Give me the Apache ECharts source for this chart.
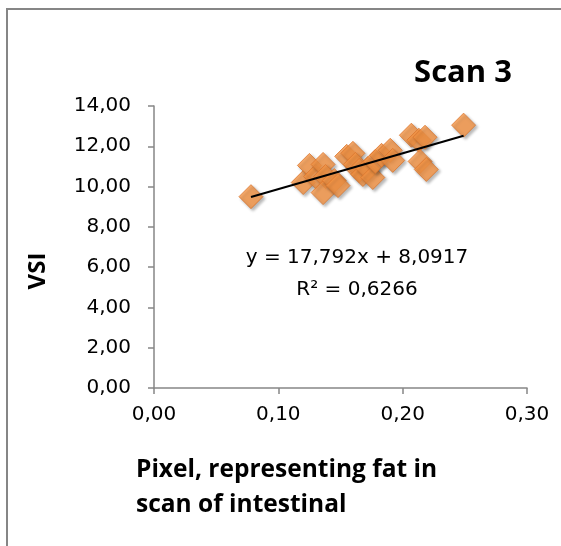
<!DOCTYPE html>
<html>
<head>
<meta charset="utf-8">
<script src="https://cdn.jsdelivr.net/npm/echarts@6/dist/echarts.min.js"></script>
<style>
  html, body { margin: 0; padding: 0; background: #fff; }
  #chart { width: 561px; height: 546px; }
</style>
</head>
<body>
<div id="chart"></div>
<script>
// Fat pixel fraction per sample (x) and its VSI value (y)
const fatPixel = [0.078, 0.120, 0.125, 0.130, 0.136, 0.138, 0.136, 0.145, 0.148, 0.155, 0.160, 0.162, 0.165,
                  0.168, 0.172, 0.176, 0.178, 0.183, 0.190, 0.192, 0.207, 0.213, 0.218, 0.214, 0.219, 0.249];
const vsi      = [9.50, 10.20, 11.05, 10.50, 11.10, 10.50, 9.70, 10.30, 10.05, 11.50, 11.65, 11.10, 10.80,
                  10.60, 10.90, 10.45, 11.25, 11.55, 11.80, 11.30, 12.55, 12.30, 12.45, 11.25, 10.85, 13.05];

// Linear fit reported for this scan
const slope = 17.792;
const intercept = 8.0917;
const rSquared = 0.6266;

const xTicks = [0, 0.1, 0.2, 0.3];
const yTicks = [0, 2, 4, 6, 8, 10, 12, 14];

const fmt = (v, d) => v.toFixed(d).replace('.', ',');

const points = fatPixel.map((x, i) => [x, vsi[i]]);
const xMin = Math.min(...fatPixel), xMax = Math.max(...fatPixel);
const trend = [[xMin, intercept + slope * xMin], [xMax, intercept + slope * xMax]];

const font = '"Open Sans", "Noto Sans", "Liberation Sans", sans-serif';
const numFont = '"DejaVu Sans", "Open Sans", sans-serif';
const chart = echarts.init(document.getElementById('chart'), null, { renderer: 'canvas' });

chart.setOption({
  animation: false,
  backgroundColor: '#ffffff',
  grid: { left: 154, right: 34, top: 106, bottom: 158, containLabel: false },
  xAxis: {
    type: 'value',
    min: xTicks[0], max: xTicks[xTicks.length - 1], interval: 0.1,
    axisLine: { show: true, lineStyle: { color: '#868686', width: 1.5 } },
    axisTick: { show: true, inside: false, length: 6, lineStyle: { color: '#868686', width: 1.5 } },
    splitLine: { show: false },
    axisLabel: { formatter: v => fmt(v, 2), color: '#000', fontSize: 20, fontFamily: numFont, margin: 17 }
  },
  yAxis: {
    type: 'value',
    min: yTicks[0], max: yTicks[yTicks.length - 1], interval: 2,
    axisLine: { show: true, lineStyle: { color: '#868686', width: 1.5 } },
    axisTick: { show: true, inside: false, length: 6, lineStyle: { color: '#868686', width: 1.5 } },
    splitLine: { show: false },
    axisLabel: { formatter: v => fmt(v, 2), color: '#000', fontSize: 20, fontFamily: numFont, margin: 23 }
  },
  series: [
    {
      type: 'scatter',
      data: points,
      symbol: 'diamond',
      symbolSize: [24, 24],
      itemStyle: {
        color: '#F79646',
        borderColor: '#D9772F',
        borderWidth: 1,
        shadowColor: 'rgba(0,0,0,0.35)',
        shadowBlur: 3,
        shadowOffsetX: 2,
        shadowOffsetY: 2
      },
      z: 2
    },
    {
      type: 'line',
      data: trend,
      symbol: 'none',
      lineStyle: { color: '#000', width: 2 },
      z: 3
    }
  ],
  graphic: [
    { type: 'rect', shape: { x: 7, y: 9, width: 620, height: 600 },
      style: { fill: 'none', stroke: '#868686', lineWidth: 2 }, silent: true },
    { type: 'text', x: 463, y: 73,
      style: { text: 'Scan 3', font: 'bold 31px ' + font, fill: '#000', align: 'center', verticalAlign: 'middle' } },
    { type: 'text', x: 357, y: 258,
      style: { text: 'y = ' + fmt(slope, 3) + 'x + ' + fmt(intercept, 4), font: '20px ' + numFont, fill: '#000',
               align: 'center', verticalAlign: 'middle' } },
    { type: 'text', x: 357, y: 290,
      style: { text: 'R² = ' + fmt(rSquared, 4), font: '20px ' + numFont, fill: '#000',
               align: 'center', verticalAlign: 'middle' } },
    { type: 'text', x: 38, y: 271, rotation: Math.PI / 2,
      style: { text: 'VSI', font: 'bold 24px ' + font, fill: '#000', align: 'center', verticalAlign: 'middle' } },
    { type: 'text', x: 136, y: 470,
      style: { text: 'Pixel, representing fat in', font: 'bold 24.5px ' + font, fill: '#000', verticalAlign: 'middle' } },
    { type: 'text', x: 136, y: 505,
      style: { text: 'scan of intestinal', font: 'bold 24.5px ' + font, fill: '#000', verticalAlign: 'middle' } }
  ]
});
</script>
</body>
</html>
